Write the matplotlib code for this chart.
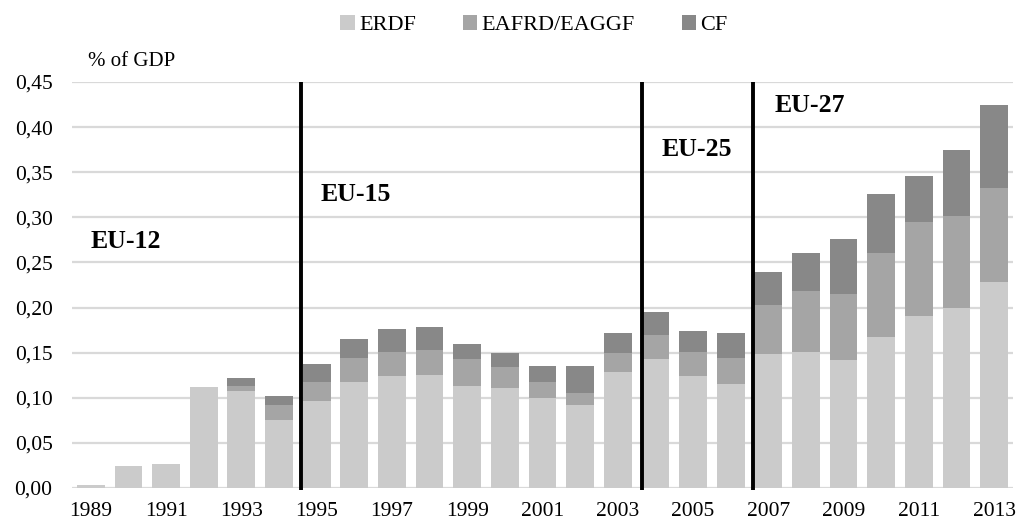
import numpy as np
import matplotlib
matplotlib.use("Agg")
import matplotlib.pyplot as plt

# data (% of GDP)
years = list(range(1989, 2014))
erdf = [0.003, 0.024, 0.027, 0.112, 0.107, 0.075, 0.096, 0.117, 0.124, 0.125,
        0.113, 0.111, 0.100, 0.092, 0.129, 0.143, 0.124, 0.115, 0.148, 0.151,
        0.142, 0.167, 0.191, 0.200, 0.228]
eafrd = [0.0, 0.0, 0.0, 0.0, 0.006, 0.017, 0.021, 0.027, 0.027, 0.028,
         0.030, 0.023, 0.018, 0.013, 0.021, 0.027, 0.027, 0.029, 0.055, 0.067,
         0.073, 0.094, 0.104, 0.102, 0.105]
cf = [0.0, 0.0, 0.0, 0.0, 0.009, 0.010, 0.020, 0.021, 0.025, 0.026,
      0.017, 0.016, 0.017, 0.030, 0.022, 0.025, 0.023, 0.028, 0.036, 0.043,
      0.061, 0.065, 0.051, 0.073, 0.092]
series_names = ["ERDF", "EAFRD/EAGGF", "CF"]
colors = ["#cbcbcb", "#a5a5a5", "#888888"]

# enlargement markers: position (bar index) and label
enlarge_pos = [5.58, 14.65, 17.6]
labels = ["EU-12", "EU-15", "EU-25", "EU-27"]
label_xy = [(0.0, 0.273), (6.1, 0.325), (15.16, 0.375), (18.18, 0.4235)]

serif = ["Liberation Serif", "DejaVu Serif"]
plt.rcParams["font.family"] = serif

fig = plt.figure(figsize=(10.19, 5.21), dpi=100)
ax = fig.add_axes([0.0707, 0.0633, 0.9233, 0.7793])

x = np.arange(len(years))
w = 0.74
bottom = np.zeros(len(years))
for vals, name, col in zip([erdf, eafrd, cf], series_names, colors):
    ax.bar(x, vals, w, bottom=bottom, color=col, label=name, zorder=2)
    bottom = bottom + np.array(vals)

for p in enlarge_pos:
    ax.plot([p, p], [-0.002, 0.45], color="black", lw=2.8, zorder=3,
            clip_on=False, solid_capstyle="butt")

for lab, (lx, ly) in zip(labels, label_xy):
    ax.text(lx, ly, lab, ha="left", va="center", fontsize=18.5,
            fontweight="bold", zorder=4)

ax.set_xlim(-0.5, 24.5)
ax.set_ylim(0, 0.45)
ax.set_yticks(np.arange(0, 0.451, 0.05))
ax.set_yticklabels([f"{v:.2f}".replace(".", ",") for v in np.arange(0, 0.451, 0.05)],
                   fontsize=15.5)
ax.set_xticks(x[::2])
ax.set_xticklabels([str(y) for y in years[::2]], fontsize=15.5)
ax.tick_params(axis="x", length=0, pad=10)
ax.tick_params(axis="y", length=0, pad=14)
ax.yaxis.grid(True, color="#d9d9d9", lw=1.6, zorder=0)
ax.set_axisbelow(True)
for s in ax.spines.values():
    s.set_visible(False)

fig.text(88 / 1019, 1 - 62 / 521, "% of GDP", fontsize=15, va="center", ha="left")

fig.legend(loc="center", bbox_to_anchor=(534 / 1019, 1 - 25 / 521), ncol=3,
           frameon=False, fontsize=16, handlelength=0.65, handleheight=0.65,
           handletextpad=0.2, columnspacing=2.1)

fig.savefig("out.png", dpi=100)
